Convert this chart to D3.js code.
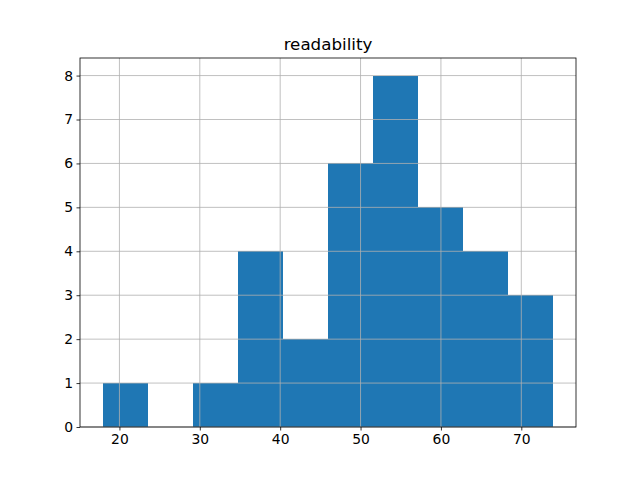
<!DOCTYPE html>
<html>
<head>
<meta charset="utf-8">
<script src="https://cdn.jsdelivr.net/npm/d3@7"></script>
<style>
  body { margin: 0; background: #fff; }
  svg text { font-family: "DejaVu Sans", sans-serif; }
</style>
</head>
<body>
<div id="chart"></div>
<script>
// Histogram data (bin edges and counts)
const binEdges = [17.9, 23.51, 29.12, 34.73, 40.34, 45.95, 51.56, 57.17, 62.78, 68.39, 74.0];
const counts = [1, 0, 1, 4, 2, 6, 8, 5, 4, 3];
const xTicks = [20, 30, 40, 50, 60, 70];
const yTicks = [0, 1, 2, 3, 4, 5, 6, 7, 8];
const title = "readability";

const width = 640;
const height = 480;
const margin = { left: 80, right: 64, top: 58, bottom: 53 };

const svg = d3.select("#chart").append("svg")
    .attr("width", width)
    .attr("height", height);

// 5% margins like matplotlib
const span = binEdges[binEdges.length - 1] - binEdges[0];
const x = d3.scaleLinear()
    .domain([binEdges[0] - span * 0.05, binEdges[binEdges.length - 1] + span * 0.05])
    .range([margin.left, width - margin.right]);

const y = d3.scaleLinear()
    .domain([0, d3.max(counts) * 1.05])
    .range([height - margin.bottom, margin.top]);

const bins = counts.map((c, i) => ({ x0: binEdges[i], x1: binEdges[i + 1], count: c }));

// bars
svg.append("g").selectAll("rect")
    .data(bins)
    .enter().append("rect")
    .attr("x", d => x(d.x0))
    .attr("width", d => x(d.x1) - x(d.x0))
    .attr("y", d => y(d.count))
    .attr("height", d => y(0) - y(d.count))
    .style("fill", "#1f77b4")
    .style("shape-rendering", "crispEdges");

// grid lines, drawn over the bars
const grid = svg.append("g")
    .style("stroke", "#b0b0b0")
    .style("stroke-width", 0.8);

grid.selectAll("line.vx")
    .data(xTicks)
    .enter().append("line")
    .attr("x1", d => x(d)).attr("x2", d => x(d))
    .attr("y1", margin.top).attr("y2", height - margin.bottom);

grid.selectAll("line.hy")
    .data(yTicks)
    .enter().append("line")
    .attr("y1", d => y(d)).attr("y2", d => y(d))
    .attr("x1", margin.left).attr("x2", width - margin.right);

// axes
const xAxis = svg.append("g")
    .attr("transform", `translate(0,${height - margin.bottom})`)
    .call(d3.axisBottom(x).tickValues(xTicks).tickSize(3.5).tickPadding(3.5).tickSizeOuter(0));

const yAxis = svg.append("g")
    .attr("transform", `translate(${margin.left},0)`)
    .call(d3.axisLeft(y).tickValues(yTicks).tickSize(3.5).tickPadding(3.5).tickSizeOuter(0));

[xAxis, yAxis].forEach(a => {
    a.select(".domain").remove();
    a.selectAll("line").style("stroke", "#000").style("stroke-width", 0.8);
    a.selectAll("text")
        .style("font-size", "13.9px")
        .style("fill", "#000")
        .style("font-family", "DejaVu Sans, sans-serif");
});

// frame
svg.append("rect")
    .attr("x", margin.left)
    .attr("y", margin.top)
    .attr("width", width - margin.left - margin.right)
    .attr("height", height - margin.top - margin.bottom)
    .style("fill", "none")
    .style("stroke", "#000")
    .style("stroke-width", 0.8);

// title
svg.append("text")
    .attr("x", (margin.left + width - margin.right) / 2)
    .attr("y", margin.top - 8)
    .attr("text-anchor", "middle")
    .style("font-size", "16.7px")
    .style("fill", "#000")
    .text(title);
</script>
</body>
</html>
